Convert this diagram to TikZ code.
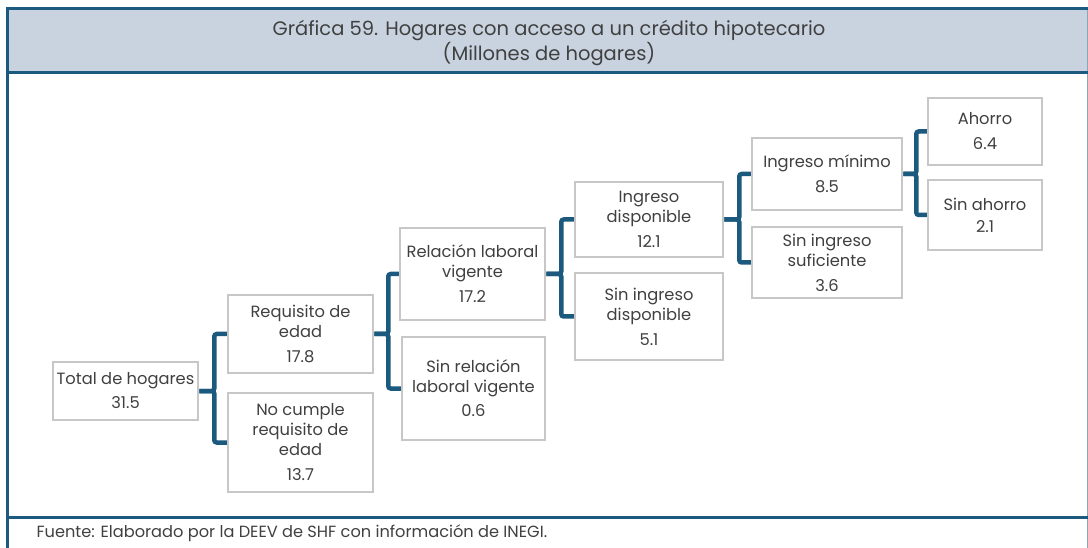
\documentclass[tikz,border=0pt]{standalone}
\usepackage{fontspec}
\setmainfont{Poppins}
\usetikzlibrary{shadows}
\definecolor{frameblue}{RGB}{27,90,126}
\definecolor{titlebg}{RGB}{201,211,223}
\definecolor{txt}{RGB}{64,64,64}
\definecolor{rightline}{RGB}{140,165,185}
\begin{document}
\begin{tikzpicture}[x=1pt,y=-1pt,
  box/.style={draw=black!22, line width=2.5pt, fill=white, align=center, inner sep=0pt,
    text=txt, font=\fontsize{16.3}{20}\selectfont,
    drop shadow={opacity=0.25, shadow xshift=1.2pt, shadow yshift=-1.2pt}},
  conn/.style={draw=frameblue, line width=4.5pt, rounded corners=2.5pt},
  frameline/.style={draw=frameblue, line width=3pt}]
\useasboundingbox (0,0) rectangle (1088,548);
% frame
\fill[titlebg] (7,9) rectangle (1088,73);
\draw[draw=rightline, line width=1pt] (1087.5,9) -- (1087.5,548);
\draw[frameline] (7,548) -- (7,9) -- (1088,9);
\draw[frameline] (7,73) -- (1088,73);
\draw[frameline] (7,517) -- (1088,517);
\node[text=txt, font=\fontsize{19.5}{22}\selectfont, align=center] (title) at (549,43)
  {Gráfica 59. Hogares con acceso a un crédito hipotecario\\(Millones de hogares)};
\node[text=txt, font=\fontsize{16.2}{18}\selectfont, anchor=west] (src) at (33,533)
  {Fuente: Elaborado por la DEEV de SHF con información de INEGI.};
% boxes
\node[box, minimum width=145, minimum height=58] (tot) at (125.5,391) {Total de hogares\\[4pt]31.5};
\node[box, minimum width=145, minimum height=78] (req) at (300.5,334) {Requisito de\\edad\\[5pt]17.8};
\node[box, minimum width=145, minimum height=99] (noc) at (300.5,442.5) {No cumple\\requisito de\\edad\\[5pt]13.7};
\node[box, minimum width=145, minimum height=92] (rel) at (472.5,274) {Relación laboral\\vigente\\[5pt]17.2};
\node[box, minimum width=143, minimum height=103] (srel) at (473.5,388.5) {Sin relación\\laboral vigente\\[4pt]0.6};
\node[box, minimum width=148, minimum height=75] (idisp) at (649,219.5) {Ingreso\\disponible\\[5pt]12.1};
\node[box, minimum width=148, minimum height=87] (sidisp) at (649,316.5) {Sin ingreso\\disponible\\[5pt]5.1};
\node[box, minimum width=150, minimum height=72] (imin) at (827,174) {Ingreso mínimo\\[5pt]8.5};
\node[box, minimum width=150, minimum height=71] (sisuf) at (827,262.5) {Sin ingreso\\suficiente\\[5pt]3.6};
\node[box, minimum width=114, minimum height=67] (aho) at (985,131.5) {Ahorro\\[5pt]6.4};
\node[box, minimum width=114, minimum height=70] (sah) at (985,215) {Sin ahorro\\[2pt]2.1};
% connectors
\draw[conn] (tot.east) -- ++(15,0) |- (req.west);
\draw[conn] (tot.east) -- ++(15,0) |- (noc.west);
\draw[conn] (req.east) -- ++(14,0) |- (rel.west);
\draw[conn] (req.east) -- ++(14,0) |- (srel.west);
\draw[conn] (rel.east) -- ++(15,0) |- (idisp.west);
\draw[conn] (rel.east) -- ++(15,0) |- (sidisp.west);
\draw[conn] (idisp.east) -- ++(15,0) |- (imin.west);
\draw[conn] (idisp.east) -- ++(15,0) |- (sisuf.west);
\draw[conn] (imin.east) -- ++(13,0) |- (aho.west);
\draw[conn] (imin.east) -- ++(13,0) |- (sah.west);
\end{tikzpicture}
\end{document}
